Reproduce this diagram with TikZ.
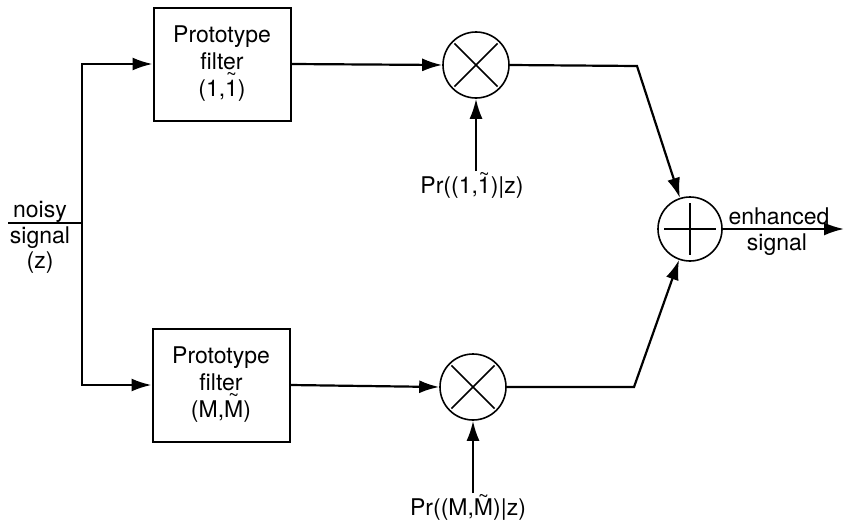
\documentclass[tikz,border=0pt]{standalone}
\usepackage{fontspec}
\setmainfont{TeX Gyre Heros}
\usetikzlibrary{arrows.meta,calc}
\newcommand{\tld}[2][0.7em]{\ooalign{#2\cr\hidewidth\raisebox{#1}{\scalebox{0.8}{\textasciitilde}}\hidewidth\cr}}
\begin{document}
\begin{tikzpicture}[x=1pt,y=-1pt,
  every node/.style={font=\fontsize{23}{27}\selectfont},
  fbox/.style={draw,line width=2pt,minimum width=137pt,minimum height=113pt,align=center,inner sep=0pt},
  opnode/.style={draw,circle,line width=1.6pt,minimum size=66pt,inner sep=0pt},
  lbl/.style={inner sep=0pt,anchor=base},
  arr/.style={line width=2.2pt,-{Latex[length=20pt,width=13pt]}},
  wire/.style={line width=2.2pt},
  thin wire/.style={line width=1.6pt}]
\useasboundingbox (0,0) rectangle (845,522);
% blocks
\node[fbox] (f1) at (222,64) {Prototype\\filter\\(1,\tld{1})};
\node[fbox] (f2) at (221,385) {Prototype\\filter\\(M,\tld{M})};
\node[opnode] (m1) at (476,65) {};
\node[opnode] (m2) at (473,387) {};
\node[opnode,minimum size=64pt] (s) at (690,229) {};
% crosses and plus
\draw[thin wire] ($(m1)!0.9!(m1.north west)$) -- ($(m1)!0.9!(m1.south east)$);
\draw[thin wire] ($(m1)!0.9!(m1.north east)$) -- ($(m1)!0.9!(m1.south west)$);
\draw[thin wire] ($(m2)!0.9!(m2.north west)$) -- ($(m2)!0.9!(m2.south east)$);
\draw[thin wire] ($(m2)!0.9!(m2.north east)$) -- ($(m2)!0.9!(m2.south west)$);
\draw[thin wire] ($(s)!0.78!(s.north)$) -- ($(s)!0.78!(s.south)$);
\draw[thin wire] ($(s)!0.78!(s.west)$) -- ($(s)!0.78!(s.east)$);
% coordinates
\coordinate (in) at (8,223);
\coordinate (sp) at (82,223);
\coordinate (c1) at (637,66);
\coordinate (c2) at (634,387);
\coordinate (out) at (844,229);
% labels
\node[lbl] (n1) at (40,217) {noisy};
\node[lbl] (n2) at (40,243) {signal};
\node[lbl] (n3) at (40,268) {(z)};
\node[lbl] (p1) at (472,193) {Pr((1,\tld[0.55em]{1})|z)};
\node[lbl] (p2) at (468,515) {Pr((M,\tld[0.55em]{M})|z)};
\node[lbl] (e1) at (779,224) {enhanced};
\node[lbl] (e2) at (777,250) {signal};
% connectors
\draw[wire] (in) -- (sp);
\draw[arr] (sp) |- (f1.west);
\draw[arr] (sp) |- (f2.west);
\draw[arr] (f1.east) -- (m1.west);
\draw[arr] (f2.east) -- (m2.west);
\draw[arr] (m1.east) -- (c1) -- (s);
\draw[arr] (m2.east) -- (c2) -- (s);
\draw[arr] ([yshift=5pt]p1.north -| m1.south) -- (m1.south);
\draw[arr] ([yshift=5pt]p2.north -| m2.south) -- (m2.south);
\draw[arr] (s.east) -- (out);
\end{tikzpicture}
\end{document}
